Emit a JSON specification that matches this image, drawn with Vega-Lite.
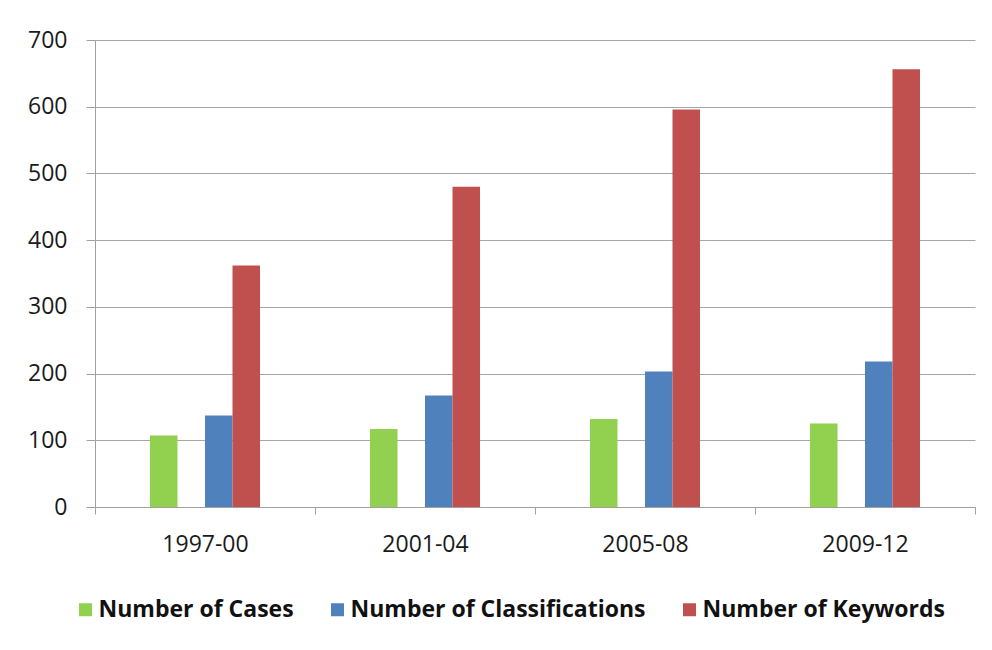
{
  "$schema": "https://vega.github.io/schema/vega-lite/v6.json",
  "width": 880,
  "height": 467,
  "autosize": {"type": "none"},
  "padding": {"left": 95, "top": 40, "right": 17, "bottom": 143},
  "background": "white",
  "config": {
    "view": {"stroke": null},
    "font": "Open Sans"
  },
  "data": {
    "values": [
      {"period": "1997-00", "series": "Number of Cases", "value": 107},
      {"period": "1997-00", "series": "Number of Classifications", "value": 137},
      {"period": "1997-00", "series": "Number of Keywords", "value": 362},
      {"period": "2001-04", "series": "Number of Cases", "value": 117},
      {"period": "2001-04", "series": "Number of Classifications", "value": 167},
      {"period": "2001-04", "series": "Number of Keywords", "value": 480},
      {"period": "2005-08", "series": "Number of Cases", "value": 132},
      {"period": "2005-08", "series": "Number of Classifications", "value": 203},
      {"period": "2005-08", "series": "Number of Keywords", "value": 596},
      {"period": "2009-12", "series": "Number of Cases", "value": 125},
      {"period": "2009-12", "series": "Number of Classifications", "value": 218},
      {"period": "2009-12", "series": "Number of Keywords", "value": 656}
    ]
  },
  "mark": {"type": "bar"},
  "encoding": {
    "x": {
      "field": "period",
      "type": "nominal",
      "sort": null,
      "scale": {"paddingInner": 0, "paddingOuter": 0},
      "axis": {
        "title": null,
        "labelAngle": 0,
        "tickBand": "extent",
        "tickSize": 7,
        "tickColor": "#a0a0a0",
        "domainColor": "#a0a0a0",
        "labelFont": "Open Sans",
        "labelFontSize": 23,
        "labelColor": "#1a1a1a",
        "labelPadding": 19
      }
    },
    "xOffset": {
      "field": "series",
      "type": "nominal",
      "scale": {
        "domain": ["_a", "Number of Cases", "_gap", "Number of Classifications", "Number of Keywords", "_b"],
        "paddingInner": 0,
        "paddingOuter": 1
      }
    },
    "y": {
      "field": "value",
      "type": "quantitative",
      "scale": {"domain": [0, 700], "nice": false},
      "axis": {
        "title": null,
        "values": [0, 100, 200, 300, 400, 500, 600, 700],
        "tickSize": 9,
        "tickColor": "#a0a0a0",
        "domainColor": "#a0a0a0",
        "gridColor": "#a6a6a6",
        "gridWidth": 1,
        "labelFont": "Open Sans",
        "labelFontSize": 23,
        "labelColor": "#1a1a1a",
        "labelPadding": 19
      }
    },
    "color": {
      "field": "series",
      "type": "nominal",
      "scale": {
        "domain": ["Number of Cases", "Number of Classifications", "Number of Keywords"],
        "range": ["#92d050", "#4f81bd", "#c0504d"]
      },
      "legend": {
        "title": null,
        "orient": "none",
        "direction": "horizontal",
        "legendX": -21,
        "legendY": 558,
        "symbolType": "square",
        "symbolSize": 169,
        "symbolStrokeWidth": 0,
        "symbolOpacity": 1,
        "labelFont": "Open Sans",
        "labelFontSize": 23,
        "labelFontWeight": "bold",
        "labelColor": "#111111",
        "labelOffset": 1.5,
        "columnPadding": 32,
        "labelLimit": 400
      }
    }
  }
}
